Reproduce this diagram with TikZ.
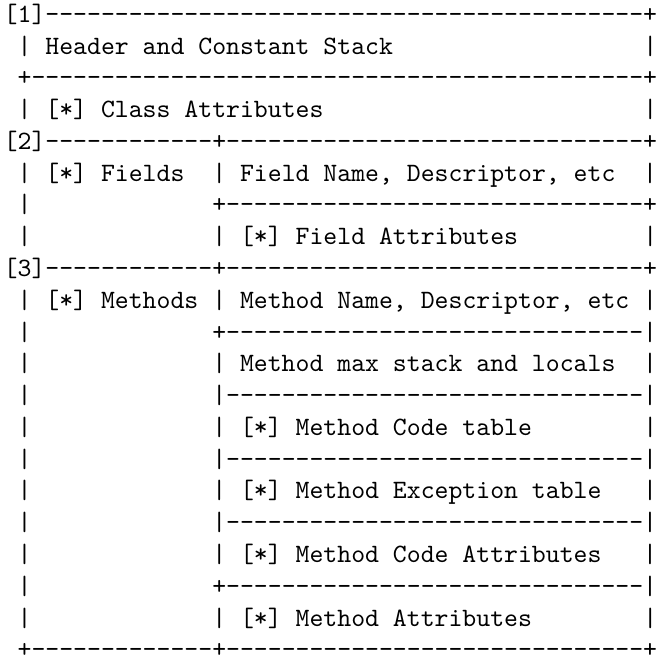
\documentclass[tikz,border=0pt]{standalone}
\usepackage{tikz}

\newcommand{\dashes}[1]{\foreach \k in {1,...,#1}{-\kern0pt}}
\newcommand{\blanks}[1]{\foreach \k in {1,...,#1}{~}}

\tikzset{asciirow/.style={anchor=base west, inner sep=0pt, font=\ttfamily}}

\begin{document}
\begin{tikzpicture}
    \useasboundingbox (0,0) rectangle (247.7pt,-249.6pt);

    % class header
    \node[asciirow] (r0) at (1.2pt,-8.4pt) {[1]\dashes{43}+};
    \node[asciirow] (r1) at (1.2pt,-20.4pt) {~|~Header~and~Constant~Stack\blanks{18}|};
    \node[asciirow] (r2) at (1.2pt,-32.4pt) {~+\dashes{44}+};
    \node[asciirow] (r3) at (1.2pt,-44.4pt) {~|~[*]~Class~Attributes\blanks{23}|};

    % fields
    \node[asciirow] (r4) at (1.2pt,-56.4pt) {[2]\dashes{12}+\dashes{30}+};
    \node[asciirow] (r5) at (1.2pt,-68.4pt) {~|~[*]~Fields~~|~Field~Name,~Descriptor,~etc~~|};
    \node[asciirow] (r6) at (1.2pt,-80.4pt) {~|\blanks{13}+\dashes{30}+};
    \node[asciirow] (r7) at (1.2pt,-92.4pt) {~|\blanks{13}|~[*]~Field~Attributes\blanks{9}|};

    % methods
    \node[asciirow] (r8) at (1.2pt,-104.4pt) {[3]\dashes{12}+\dashes{30}+};
    \node[asciirow] (r9) at (1.2pt,-116.4pt) {~|~[*]~Methods~|~Method~Name,~Descriptor,~etc~|};
    \node[asciirow] (r10) at (1.2pt,-128.4pt) {~|\blanks{13}+\dashes{30}|};
    \node[asciirow] (r11) at (1.2pt,-140.4pt) {~|\blanks{13}|~Method~max~stack~and~locals~~|};
    \node[asciirow] (r12) at (1.2pt,-152.4pt) {~|\blanks{13}|\dashes{30}|};
    \node[asciirow] (r13) at (1.2pt,-164.4pt) {~|\blanks{13}|~[*]~Method~Code~table\blanks{8}|};
    \node[asciirow] (r14) at (1.2pt,-176.4pt) {~|\blanks{13}|\dashes{30}|};
    \node[asciirow] (r15) at (1.2pt,-188.4pt) {~|\blanks{13}|~[*]~Method~Exception~table\blanks{3}|};
    \node[asciirow] (r16) at (1.2pt,-200.4pt) {~|\blanks{13}|\dashes{30}|};
    \node[asciirow] (r17) at (1.2pt,-212.4pt) {~|\blanks{13}|~[*]~Method~Code~Attributes\blanks{3}|};
    \node[asciirow] (r18) at (1.2pt,-224.4pt) {~|\blanks{13}+\dashes{30}|};
    \node[asciirow] (r19) at (1.2pt,-236.4pt) {~|\blanks{13}|~[*]~Method~Attributes\blanks{8}|};
    \node[asciirow] (r20) at (1.2pt,-248.4pt) {~+\dashes{13}+\dashes{30}+};
\end{tikzpicture}
\end{document}
